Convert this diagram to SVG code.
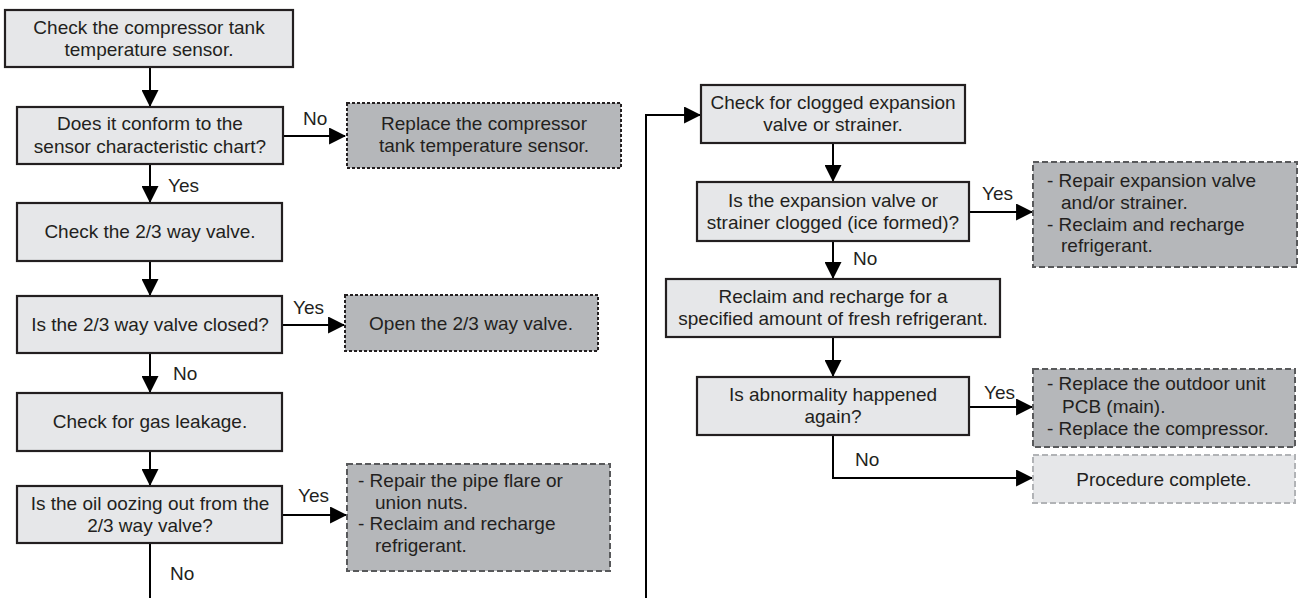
<svg xmlns="http://www.w3.org/2000/svg" width="1300" height="598" viewBox="0 0 1300 598">
<defs>
<style>
text{font-family:"Liberation Sans",Arial,sans-serif;font-size:19px;fill:#231f20}
.c{text-anchor:middle}
.box{fill:#e6e7e9;stroke:#231f20;stroke-width:2.2}
.act{fill:#b5b7ba;stroke:#231f20;stroke-width:2;stroke-dasharray:3 2}
.act2{fill:#b5b7ba;stroke:#58595b;stroke-width:2;stroke-dasharray:6 3}
.done{fill:#e6e7e9;stroke:#b1b3b6;stroke-width:2;stroke-dasharray:6 3}
.ln{fill:none;stroke:#000;stroke-width:2}
</style>
<marker id="ah" viewBox="0 0 16 16" refX="15" refY="8" markerWidth="17" markerHeight="17" markerUnits="userSpaceOnUse" orient="auto">
<path d="M0,0 L16,8 L0,16 z" fill="#000"/>
</marker>
</defs>
<rect width="1300" height="598" fill="#fff"/>

<g id="connectors">
<path class="ln" d="M150,67 V106" marker-end="url(#ah)"/>
<path class="ln" d="M283,136 H345" marker-end="url(#ah)"/>
<path class="ln" d="M150,164 V202" marker-end="url(#ah)"/>
<path class="ln" d="M150,261 V295" marker-end="url(#ah)"/>
<path class="ln" d="M282,325 H344" marker-end="url(#ah)"/>
<path class="ln" d="M150,353 V392" marker-end="url(#ah)"/>
<path class="ln" d="M150,451 V485" marker-end="url(#ah)"/>
<path class="ln" d="M282,515 H346" marker-end="url(#ah)"/>
<path class="ln" d="M150,543 V598"/>
<path class="ln" d="M646,598 V115 H700" marker-end="url(#ah)"/>
<path class="ln" d="M833,143 V181" marker-end="url(#ah)"/>
<path class="ln" d="M969,212 H1032" marker-end="url(#ah)"/>
<path class="ln" d="M833,241 V278" marker-end="url(#ah)"/>
<path class="ln" d="M833,337 V376" marker-end="url(#ah)"/>
<path class="ln" d="M969,407 H1032" marker-end="url(#ah)"/>
<path class="ln" d="M833,435 V478 H1032" marker-end="url(#ah)"/>
<text x="303" y="125">No</text>
<text x="168" y="192">Yes</text>
<text x="293" y="314">Yes</text>
<text x="173" y="380">No</text>
<text x="298" y="502">Yes</text>
<text x="170" y="580">No</text>
<text x="982" y="200">Yes</text>
<text x="853" y="265">No</text>
<text x="984" y="399">Yes</text>
<text x="855" y="466">No</text>
</g>

<g id="n1">
<rect class="box" x="5" y="10" width="288" height="57"/>
<text class="c" x="149" y="34">Check the compressor tank</text>
<text class="c" x="149" y="56">temperature sensor.</text>
</g>
<g id="n2">
<rect class="box" x="17" y="107" width="266" height="57"/>
<text class="c" x="150" y="130">Does it conform to the</text>
<text class="c" x="150" y="153">sensor characteristic chart?</text>
</g>
<g id="n3">
<rect class="act" x="347" y="103" width="274" height="65"/>
<text class="c" x="484" y="130">Replace the compressor</text>
<text class="c" x="484" y="152">tank temperature sensor.</text>
</g>
<g id="n4">
<rect class="box" x="17" y="203" width="265" height="58"/>
<text class="c" x="150" y="238">Check the 2/3 way valve.</text>
</g>
<g id="n5">
<rect class="box" x="17" y="296" width="265" height="57"/>
<text class="c" x="150" y="331">Is the 2/3 way valve closed?</text>
</g>
<g id="n6">
<rect class="act" x="345" y="295" width="253" height="56"/>
<text class="c" x="471" y="330">Open the 2/3 way valve.</text>
</g>
<g id="n7">
<rect class="box" x="17" y="393" width="265" height="58"/>
<text class="c" x="150" y="428">Check for gas leakage.</text>
</g>
<g id="n8">
<rect class="box" x="17" y="486" width="265" height="57"/>
<text class="c" x="150" y="510">Is the oil oozing out from the</text>
<text class="c" x="150" y="532">2/3 way valve?</text>
</g>
<g id="n9">
<rect class="act2" x="347" y="464" width="263" height="107"/>
<text x="358" y="487">- Repair the pipe flare or</text>
<text x="375" y="509">union nuts.</text>
<text x="358" y="530">- Reclaim and recharge</text>
<text x="375" y="552">refrigerant.</text>
</g>
<g id="n10">
<rect class="box" x="701" y="85" width="264" height="58"/>
<text class="c" x="833" y="109">Check for clogged expansion</text>
<text class="c" x="833" y="131">valve or strainer.</text>
</g>
<g id="n11">
<rect class="box" x="697" y="182" width="272" height="59"/>
<text class="c" x="833" y="207">Is the expansion valve or</text>
<text class="c" x="833" y="229">strainer clogged (ice formed)?</text>
</g>
<g id="n12">
<rect class="act2" x="1033" y="162" width="264" height="105"/>
<text x="1047" y="187">- Repair expansion valve</text>
<text x="1061" y="209">and/or strainer.</text>
<text x="1047" y="231">- Reclaim and recharge</text>
<text x="1061" y="252">refrigerant.</text>
</g>
<g id="n13">
<rect class="box" x="666" y="279" width="334" height="58"/>
<text class="c" x="833" y="303">Reclaim and recharge for a</text>
<text class="c" x="833" y="325">specified amount of fresh refrigerant.</text>
</g>
<g id="n14">
<rect class="box" x="697" y="377" width="272" height="58"/>
<text class="c" x="833" y="401">Is abnormality happened</text>
<text class="c" x="833" y="423">again?</text>
</g>
<g id="n15">
<rect class="act2" x="1033" y="369" width="262" height="78"/>
<text x="1047" y="390">- Replace the outdoor unit</text>
<text x="1062" y="413">PCB (main).</text>
<text x="1047" y="435">- Replace the compressor.</text>
</g>
<g id="n16">
<rect class="done" x="1033" y="455" width="262" height="48"/>
<text class="c" x="1164" y="486">Procedure complete.</text>
</g>
</svg>
